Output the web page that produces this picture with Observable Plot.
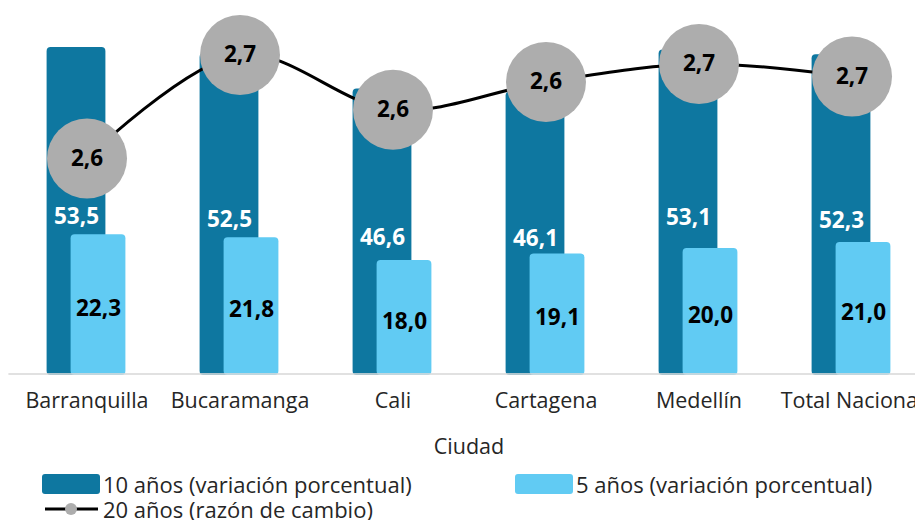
<!DOCTYPE html>
<html>
<head>
<meta charset="utf-8">
<script src="https://cdn.jsdelivr.net/npm/d3@7"></script>
<script src="https://cdn.jsdelivr.net/npm/@observablehq/plot@0.6"></script>
<style>
  html, body { margin: 0; padding: 0; background: #fff; overflow: hidden; }
  #wrap { position: relative; width: 915px; height: 520px; overflow: hidden; font-family: "Open Sans", sans-serif; color: #262626; }
  .lg { position: absolute; display: flex; align-items: center; font-size: 22px; line-height: 22px; height: 22px; white-space: nowrap; }
  .sw { width: 58px; height: 20px; border-radius: 3px; margin-right: 3px; }
</style>
</head>
<body>
<div id="wrap">
  <div id="chart"></div>
  <div id="legend"></div>
</div>
<script>
// ---- data ----
const ciudades = ["Barranquilla", "Bucaramanga", "Cali", "Cartagena", "Medellín", "Total Nacional"];
const diezAnios = [53.5, 52.5, 46.6, 46.1, 53.1, 52.3];      // 10 años (variación porcentual)
const cincoAnios = [22.3, 21.8, 18.0, 19.1, 20.0, 21.0];     // 5 años (variación porcentual)
const veinteAnios = [2.562, 2.677, 2.616, 2.647, 2.667, 2.653]; // 20 años (razón de cambio), eje secundario
const yDomain = [0, 60];
const y2Domain = [2.3286, 2.7286];
const serieNombres = ["10 años (variación porcentual)", "5 años (variación porcentual)", "20 años (razón de cambio)"];

const colorDiez = "#0E77A0";
const colorCinco = "#61CBF3";
const colorCirculo = "#ADADAD";

const data = ciudades.map((c, i) => ({ciudad: c, diez: diezAnios[i], cinco: cincoAnios[i], veinte: veinteAnios[i]}));
const fmt = v => d3.format(".1f")(v).replace(".", ",");
// secondary axis -> primary axis units
const toPrimary = v => yDomain[0] + (v - y2Domain[0]) / (y2Domain[1] - y2Domain[0]) * (yDomain[1] - yDomain[0]);

const chart = Plot.plot({
  width: 915,
  height: 460,
  marginLeft: 8.4,
  marginRight: -13.6,
  marginTop: 8,
  marginBottom: 92,
  style: {fontFamily: "'Open Sans', sans-serif", fontSize: "21.5px", color: "#262626", background: "transparent"},
  x: {domain: ciudades, padding: 0, tickSize: 0, tickPadding: 24, label: "Ciudad", labelAnchor: "center", labelOffset: 85},
  y: {domain: yDomain, axis: null},
  marks: [
    Plot.barY(data, {x: "ciudad", y: "diez", fill: colorDiez, insetLeft: 36.6, insetRight: 57.6, insetBottom: -7, rx: 4}),
    Plot.barY(data, {x: "ciudad", y: "cinco", fill: colorCinco, insetLeft: 60.6, insetRight: 37.6, insetBottom: -7, rx: 4}),
    Plot.ruleY([0], {stroke: "#d9d9d9", strokeWidth: 2, strokeOpacity: 0.8, dy: 5.5}),
    Plot.text(data, {x: "ciudad", y: d => d.diez / 2, text: d => fmt(d.diez), fill: "white", fontWeight: 700, fontSize: 22.5, dx: -10.5, dy: 9}),
    Plot.text(data, {x: "ciudad", y: d => d.cinco / 2, text: d => fmt(d.cinco), fill: "black", fontWeight: 700, fontSize: 22.5, dx: 11.5, dy: 7}),
    Plot.line(data, {x: "ciudad", y: d => toPrimary(d.veinte), stroke: "black", strokeWidth: 3, curve: "catmull-rom"}),
    Plot.dot(data, {x: "ciudad", y: d => toPrimary(d.veinte), r: 40, fill: colorCirculo, stroke: "none"}),
    Plot.text(data, {x: "ciudad", y: d => toPrimary(d.veinte), text: d => fmt(d.veinte), fill: "black", fontWeight: 700, fontSize: 22.5})
  ]
});
document.getElementById("chart").appendChild(chart);

// ---- legend ----
const legend = document.getElementById("legend");
legend.innerHTML = `
  <div class="lg" style="left:42px; top:473px;"><div class="sw" style="background:${colorDiez}"></div>${serieNombres[0]}</div>
  <div class="lg" style="left:515px; top:473px;"><div class="sw" style="background:${colorCinco}"></div>${serieNombres[1]}</div>
  <div class="lg" style="left:42px; top:498px;">
    <svg width="61" height="22" style="margin-right:0"><line x1="3" x2="56" y1="11" y2="11" stroke="black" stroke-width="3"/><circle cx="29" cy="11" r="6" fill="${colorCirculo}"/></svg>${serieNombres[2]}</div>
`;
</script>
</body>
</html>
